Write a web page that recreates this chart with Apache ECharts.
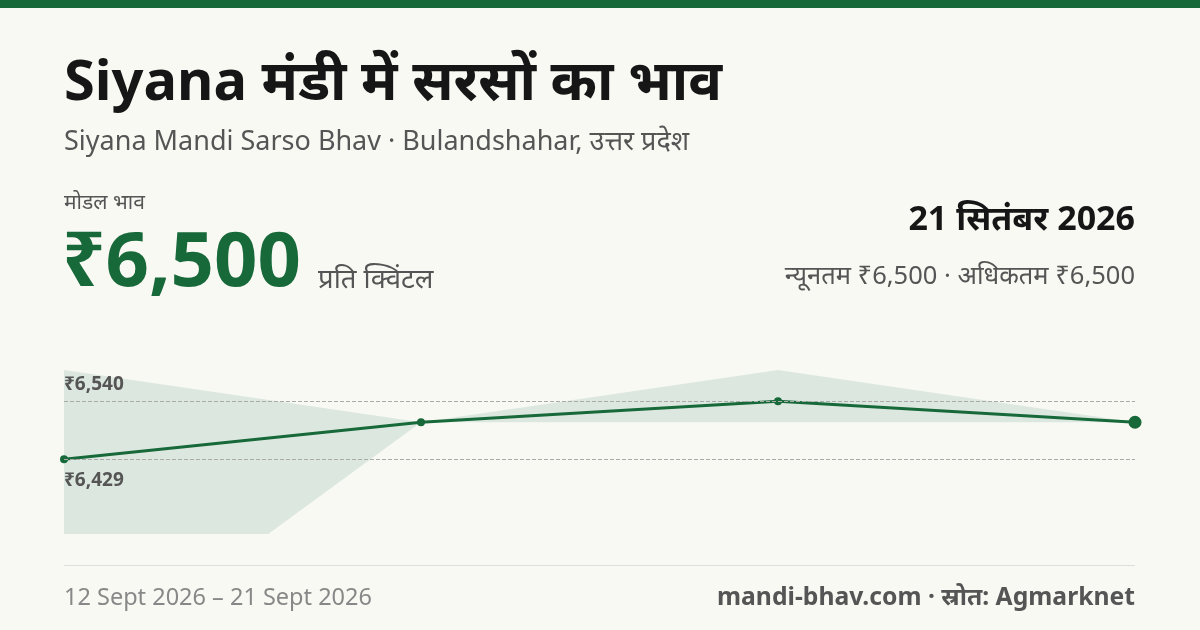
<!DOCTYPE html>
<html><head><meta charset="utf-8">
<script src="https://cdn.jsdelivr.net/npm/echarts@6/dist/echarts.min.js"></script>
<style>html,body{margin:0;background:#f9f9f4}#c{width:1200px;height:630px}</style>
</head><body><div id="c"></div>
<script>
const dates = ['12 Sept', '15 Sept', '18 Sept', '21 Sept'];
const modal = [6429, 6500, 6540, 6500];
const minPrice = [6000, 6500, 6500, 6500];
const maxPrice = [6600, 6500, 6600, 6500];
const refLines = [6540, 6429];

const green = '#17693a';
const font = '"Noto Sans", sans-serif';
let chart = echarts.init(document.getElementById('c'));
// y is the vertical centre of the text
let txt = (x, y, text, size, color, weight, align) => ({
	type: 'text', x: x, y: y,
	style: { text: text, fontSize: size, fill: color, fontWeight: weight || 'normal', fontFamily: font,
		textAlign: align || 'left', textVerticalAlign: 'middle' }
});
chart.setOption({
	backgroundColor: '#f9f9f4',
	animation: false,
	grid: { left: 64, right: 65, top: 370, height: 163 },
	xAxis: { type: 'category', data: dates, boundaryGap: false, show: false },
	yAxis: { type: 'value', min: 6288, max: 6600, show: false, splitLine: { show: false } },
	graphic: [
		{ type: 'rect', shape: { x: 0, y: 0, width: 1200, height: 8 }, style: { fill: green } },
		txt(64, 84, 'Siyana मंडी में सरसों का भाव', 56, '#161616', 'bold'),
		txt(64, 142, 'Siyana Mandi Sarso Bhav · Bulandshahar, उत्तर प्रदेश', 27, '#555'),
		txt(64, 203, 'मोडल भाव', 21, '#555'),
		txt(62, 264, '₹6,500', 76, green, 'bold'),
		txt(318, 280, 'प्रति क्विंटल', 27.5, '#555'),
		txt(1135, 220, '21 सितंबर 2026', 34, '#161616', 'bold', 'right'),
		txt(1135, 277, 'न्यूनतम ₹6,500 · अधिकतम ₹6,500', 25.5, '#555', 'normal', 'right'),
		{ type: 'rect', shape: { x: 64, y: 565, width: 1071, height: 1 }, style: { fill: '#ddd' } },
		txt(64, 598, '12 Sept 2026 – 21 Sept 2026', 23.5, '#888'),
		txt(1135, 598, 'mandi-bhav.com · स्रोत: Agmarknet', 24.7, '#555', 'bold', 'right')
	],
	series: [
		{ type: 'line', data: minPrice, stack: 'band', symbol: 'none', lineStyle: { opacity: 0 } },
		{ type: 'line', data: maxPrice.map((v, i) => v - minPrice[i]), stack: 'band', symbol: 'none',
			lineStyle: { opacity: 0 }, areaStyle: { color: '#dce8df', opacity: 1 } },
		{ type: 'line', data: modal, symbol: 'circle',
			symbolSize: (v, p) => p.dataIndex === modal.length - 1 ? 13 : 8,
			itemStyle: { color: green }, lineStyle: { color: green, width: 3 },
			markLine: {
				silent: true, symbol: 'none',
				lineStyle: { color: '#aaa', type: 'dashed', width: 1 },
				data: refLines.map((v, i) => ({
					yAxis: v,
					label: { formatter: '₹' + v.toLocaleString('en-IN'), position: i === 0 ? 'insideStartTop' : 'insideStartBottom',
						color: '#555', fontWeight: 'bold', fontSize: 19, fontFamily: font, distance: [0, i === 0 ? 7 : 12] }
				}))
			}
		}
	]
});
</script></body></html>
